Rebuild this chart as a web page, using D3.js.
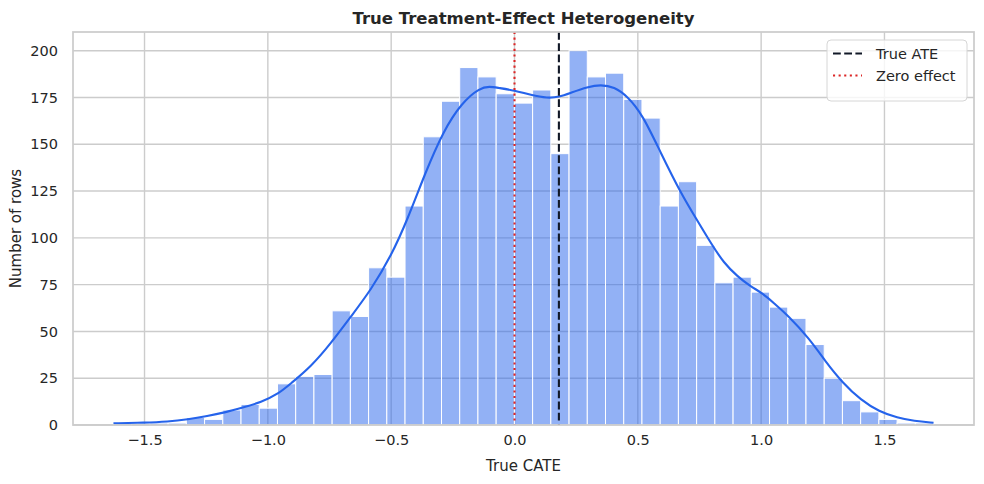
<!DOCTYPE html>
<html>
<head>
<meta charset="utf-8">
<script src="https://cdn.jsdelivr.net/npm/d3@7"></script>
<style>
    body { margin: 0; background: #fff; }
    svg { display: block; font-family: "DejaVu Sans", sans-serif; }
</style>
</head>
<body>
<div id="chart"></div>
<script>
// histogram of true CATE, 45 bins between data min and max
const dataMin = -1.626;
const dataMax = 1.699;
const binCounts = [
    1, 0, 1, 1, 4, 3, 8, 11, 9, 22,
    26, 27, 61, 58, 84, 79, 117, 154, 173, 191,
    186, 177, 172, 179, 145, 200, 186, 188, 174, 164,
    117, 130, 96, 76, 79, 71, 63, 57, 43, 25,
    13, 7, 3, 1, 1
];

// kde curve (x value, scaled count)
const kdeX = [
    -1.626, -1.5, -1.406, -1.325, -1.244, -1.177, -1.102, -1.028, -0.954, -0.906,
    -0.825, -0.744, -0.663, -0.582, -0.501, -0.434, -0.362, -0.289, -0.214, -0.141,
    -0.1, -0.069, 0.0, 0.066, 0.134, 0.18, 0.228, 0.296, 0.35, 0.404,
    0.458, 0.519, 0.593, 0.674, 0.735, 0.796, 0.849, 0.904, 0.957, 1.005,
    1.052, 1.106, 1.194, 1.261, 1.332, 1.404, 1.479, 1.552, 1.62, 1.699
];
const kdeY = [
    0.9, 1.2, 1.8, 3.0, 4.8, 6.6, 9.3, 12.1, 16.9, 22.3,
    31.2, 43.7, 58.0, 72.2, 90.1, 109.7, 134.7, 157, 172.2, 180.2,
    180.9, 180.2, 178.8, 176.3, 174.6, 175.2, 177.5, 180.7, 181.9, 180.7,
    175.7, 165.9, 145.4, 124, 110.6, 97.2, 86.5, 79.4, 74.0, 70.5,
    65.1, 58.9, 46.4, 33.9, 22.3, 13.4, 7.1, 3.9, 2.1, 1.2
];

const trueATE = 0.18;
const zeroEffect = 0;
const xTicks = [-1.5, -1.0, -0.5, 0.0, 0.5, 1.0, 1.5];
const yTicks = [0, 25, 50, 75, 100, 125, 150, 175, 200];
const legendLabels = ["True ATE", "Zero effect"];

let width = 984,
    height = 484,
    margin = { top: 32, right: 10, bottom: 59, left: 73 };

const textColor = "#262626";
const gridColor = "#cccccc";
const blue = "#2563eb";

const svg = d3
    .select("#chart")
    .append("svg")
    .attr("width", width)
    .attr("height", height)
    .attr("viewBox", [0, 0, width, height]);

let x = d3
    .scaleLinear()
    .domain([-1.79, 1.863])
    .range([margin.left, width - margin.right]);

let y = d3
    .scaleLinear()
    .domain([0, 210])
    .range([height - margin.bottom, margin.top]);

// grid
svg.append("g")
    .attr("class", "grid")
    .selectAll("line.gx")
    .data(xTicks)
    .join("line")
    .attr("x1", (d) => x(d))
    .attr("x2", (d) => x(d))
    .attr("y1", margin.top)
    .attr("y2", height - margin.bottom)
    .attr("stroke", gridColor)
    .attr("stroke-width", 1.4);

svg.append("g")
    .attr("class", "grid")
    .selectAll("line.gy")
    .data(yTicks)
    .join("line")
    .attr("x1", margin.left)
    .attr("x2", width - margin.right)
    .attr("y1", (d) => y(d))
    .attr("y2", (d) => y(d))
    .attr("stroke", gridColor)
    .attr("stroke-width", 1.4);

// bars
const binWidth = (dataMax - dataMin) / binCounts.length;
const bins = binCounts.map((c, i) => ({
    x0: dataMin + i * binWidth,
    x1: dataMin + (i + 1) * binWidth,
    count: c,
}));

svg.append("g")
    .attr("class", "bars")
    .selectAll("rect")
    .data(bins.filter((d) => d.count > 0))
    .join("rect")
    .attr("x", (d) => x(d.x0))
    .attr("width", (d) => x(d.x1) - x(d.x0))
    .attr("y", (d) => y(d.count))
    .attr("height", (d) => y(0) - y(d.count))
    .attr("fill", blue)
    .attr("fill-opacity", 0.5)
    .attr("stroke", "#ffffff")
    .attr("stroke-width", 1);

// kde
let line = d3
    .line()
    .x((d) => x(d[0]))
    .y((d) => y(d[1]))
    .curve(d3.curveBasis);

svg.append("path")
    .datum(d3.zip(kdeX, kdeY))
    .attr("fill", "none")
    .attr("stroke", blue)
    .attr("stroke-width", 2.1)
    .attr("d", line);

// reference lines
svg.append("line")
    .attr("x1", x(trueATE))
    .attr("x2", x(trueATE))
    .attr("y1", margin.top)
    .attr("y2", height - margin.bottom)
    .attr("stroke", "#111827")
    .attr("stroke-width", 2.1)
    .attr("stroke-dasharray", "7.8,3.4");

svg.append("line")
    .attr("x1", x(zeroEffect))
    .attr("x2", x(zeroEffect))
    .attr("y1", margin.top)
    .attr("y2", height - margin.bottom)
    .attr("stroke", "#dc2626")
    .attr("stroke-width", 2.1)
    .attr("stroke-dasharray", "2.1,3.5");

// frame
svg.append("rect")
    .attr("x", margin.left)
    .attr("y", margin.top)
    .attr("width", width - margin.left - margin.right)
    .attr("height", height - margin.top - margin.bottom)
    .attr("fill", "none")
    .attr("stroke", gridColor)
    .attr("stroke-width", 1.75);

// axes (no tick marks, labels only)
svg.append("g")
    .attr("class", "x-axis")
    .attr("transform", `translate(0,${height - margin.bottom})`)
    .call(d3.axisBottom(x).tickValues(xTicks).tickFormat(d3.format(".1f")).tickSize(0).tickPadding(10))
    .call((g) => g.select(".domain").remove())
    .call((g) => g.selectAll("text")
        .attr("fill", textColor)
        .style("font-size", "14.5px")
        .style("font-family", "DejaVu Sans"));

svg.append("g")
    .attr("class", "y-axis")
    .attr("transform", `translate(${margin.left},0)`)
    .call(d3.axisLeft(y).tickValues(yTicks).tickSize(0).tickPadding(15))
    .call((g) => g.select(".domain").remove())
    .call((g) => g.selectAll("text")
        .attr("fill", textColor)
        .style("font-size", "14.5px")
        .style("font-family", "DejaVu Sans"));

svg.append("text")
    .attr("class", "x-label")
    .attr("text-anchor", "middle")
    .attr("x", (margin.left + width - margin.right) / 2)
    .attr("y", 471)
    .attr("fill", textColor)
    .style("font-size", "15px")
    .text("True CATE");

svg.append("text")
    .attr("class", "y-label")
    .attr("text-anchor", "middle")
    .attr("transform", `translate(21,${(margin.top + height - margin.bottom) / 2}) rotate(-90)`)
    .attr("fill", textColor)
    .style("font-size", "15px")
    .text("Number of rows");

svg.append("text")
    .attr("class", "title")
    .attr("text-anchor", "middle")
    .attr("x", (margin.left + width - margin.right) / 2)
    .attr("y", 24)
    .attr("fill", textColor)
    .style("font-size", "16.5px")
    .style("font-weight", "bold")
    .text("True Treatment-Effect Heterogeneity");

// legend
let lg = svg.append("g").attr("class", "legend").attr("transform", "translate(827,40)");
lg.append("rect")
    .attr("width", 140)
    .attr("height", 61)
    .attr("rx", 4)
    .attr("fill", "#ffffff")
    .attr("fill-opacity", 0.8)
    .attr("stroke", "#d6d6d6")
    .attr("stroke-width", 1);

const legendStyles = [
    { color: "#111827", dash: "7.8,3.4" },
    { color: "#dc2626", dash: "2.1,3.5" },
];
legendLabels.forEach((label, i) => {
    let ry = 13.5 + i * 22;
    lg.append("line")
        .attr("x1", 6)
        .attr("x2", 35)
        .attr("y1", ry)
        .attr("y2", ry)
        .attr("stroke", legendStyles[i].color)
        .attr("stroke-width", 2.1)
        .attr("stroke-dasharray", legendStyles[i].dash);
    lg.append("text")
        .attr("x", 49)
        .attr("y", ry)
        .attr("dy", "0.36em")
        .attr("fill", textColor)
        .style("font-size", "14.5px")
        .text(label);
});
</script>
</body>
</html>
